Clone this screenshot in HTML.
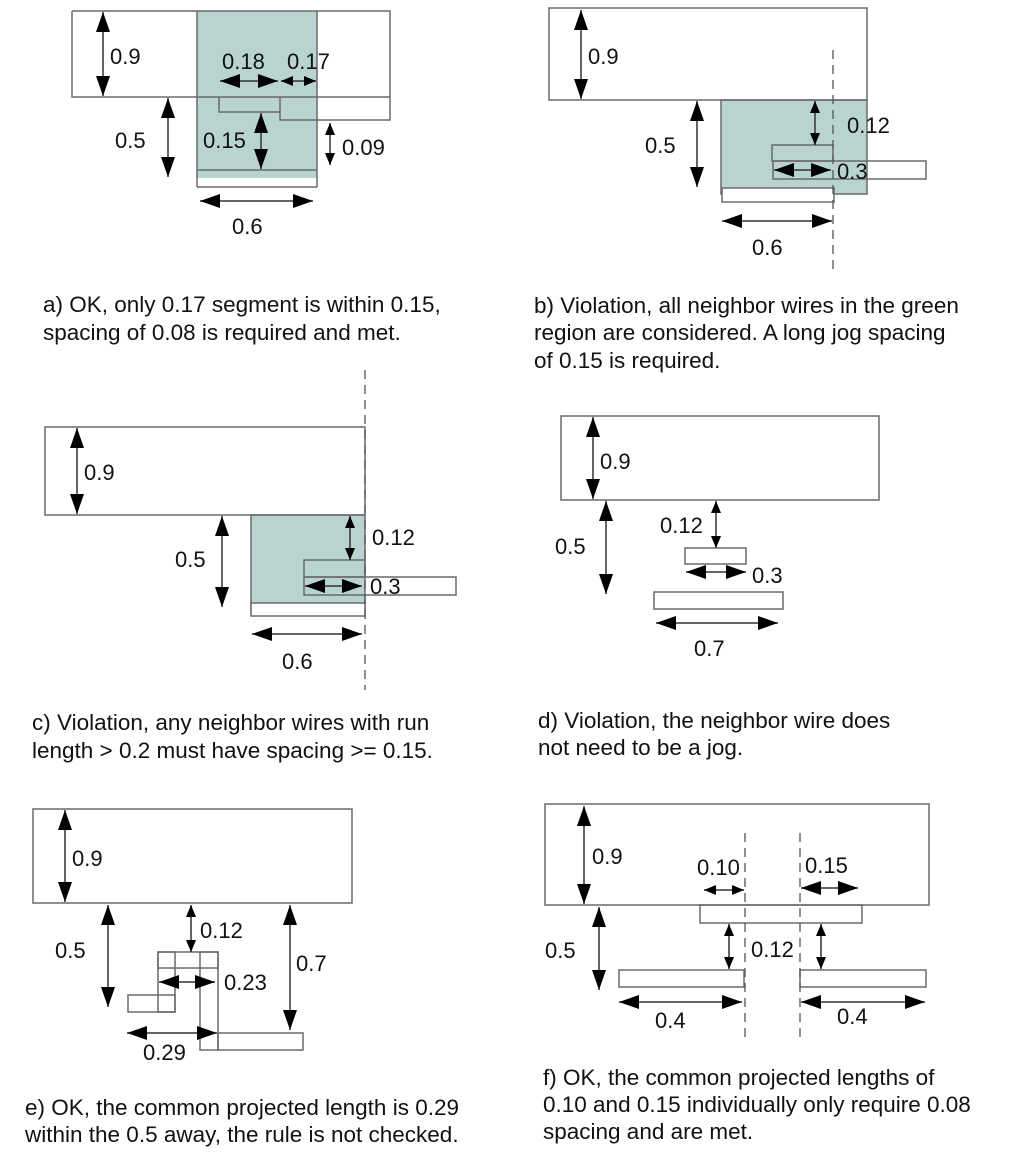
<!DOCTYPE html>
<html><head><meta charset="utf-8"><style>
html,body{margin:0;padding:0;background:#fff}
svg{display:block}
text{font-family:"Liberation Sans",Arial,sans-serif;font-size:22px;fill:#111}
text.c{font-size:22.5px}
.r{fill:none;stroke:#6a6a6a;stroke-width:1.5}
.rw{fill:#fff;stroke:#6a6a6a;stroke-width:1.5}
.a{stroke:#333;stroke-width:1.5;marker-start:url(#m);marker-end:url(#m)}
.s{stroke:#333;stroke-width:1.5;marker-start:url(#ms);marker-end:url(#ms)}
.d{stroke:#555;stroke-width:1.3;stroke-dasharray:9,6}
.g{fill:#b9d3d0}
</style></head><body>
<svg width="1013" height="1175" viewBox="0 0 1013 1175">
<defs>
<marker id="m" markerUnits="userSpaceOnUse" markerWidth="22" markerHeight="16" refX="20" refY="7" orient="auto-start-reverse"><path d="M0,0 L20,7 L0,14 Z" fill="#000"/></marker>
<marker id="ms" markerUnits="userSpaceOnUse" markerWidth="14" markerHeight="12" refX="12" refY="5" orient="auto-start-reverse"><path d="M0,0 L12,5 L0,10 Z" fill="#000"/></marker>
</defs>

<!-- a -->
<rect class="g" x="197" y="11" width="120" height="167"/>
<path class="r" d="M72,11 H390 V120 H280 V112 H219 V97 M72,11 V97 H390 M197,11 V187 M317,11 V187 M197,170 H317 M197,187 H317 M280,97 V112"/>
<line class="a" x1="103" y1="12" x2="103" y2="96"/><text x="110" y="64">0.9</text>
<line class="a" x1="220" y1="81" x2="278" y2="81"/><text x="222" y="69">0.18</text>
<line class="s" x1="281" y1="81" x2="316" y2="81"/><text x="287" y="69">0.17</text>
<line class="a" x1="168" y1="98" x2="168" y2="177"/><text x="115" y="148">0.5</text>
<line class="a" x1="261" y1="113" x2="261" y2="169"/><text x="203" y="148">0.15</text>
<line class="s" x1="330" y1="123" x2="330" y2="165"/><text x="342" y="155">0.09</text>
<line class="a" x1="200" y1="201" x2="313" y2="201"/><text x="232" y="234">0.6</text>
<text class="c" x="43" y="312">a) OK, only 0.17 segment is within 0.15,</text>
<text class="c" x="43" y="340">spacing of 0.08 is required and met.</text>

<!-- b -->
<rect class="g" x="721" y="100" width="146" height="94"/>
<rect class="r" x="549" y="8" width="318" height="92"/>
<rect class="r" x="721" y="100" width="146" height="94"/>
<rect class="r" x="772" y="145" width="61" height="16"/>
<rect class="r" x="773" y="161" width="153" height="18"/>
<rect class="rw" x="722" y="188" width="112" height="14"/>
<line class="d" x1="833" y1="50" x2="833" y2="275"/>
<line class="a" x1="581" y1="10" x2="581" y2="99"/><text x="588" y="64">0.9</text>
<line class="a" x1="697" y1="101" x2="697" y2="187"/><text x="645" y="153">0.5</text>
<line class="s" x1="815" y1="101" x2="815" y2="145"/><text x="847" y="133">0.12</text>
<line class="a" x1="774" y1="170" x2="831" y2="170"/><text x="837" y="179">0.3</text>
<line class="a" x1="722" y1="221" x2="832" y2="221"/><text x="752" y="255">0.6</text>
<text class="c" x="534" y="313">b) Violation, all neighbor wires in the green</text>
<text class="c" x="534" y="340">region are considered. A long jog spacing</text>
<text class="c" x="534" y="368">of 0.15 is required.</text>

<!-- c -->
<rect class="g" x="251" y="515" width="114" height="95"/>
<rect class="r" x="45" y="427" width="320" height="88"/>
<rect class="r" x="251" y="515" width="114" height="95"/>
<rect class="r" x="304" y="560" width="61" height="17"/>
<rect class="r" x="304" y="577" width="152" height="18"/>
<rect class="rw" x="251" y="603" width="114" height="13"/>
<line class="d" x1="365" y1="370" x2="365" y2="690"/>
<line class="a" x1="77" y1="428" x2="77" y2="514"/><text x="84" y="480">0.9</text>
<line class="a" x1="222" y1="516" x2="222" y2="607"/><text x="175" y="567">0.5</text>
<line class="s" x1="350" y1="516" x2="350" y2="560"/><text x="372" y="545">0.12</text>
<line class="a" x1="305" y1="586" x2="362" y2="586"/><text x="370" y="594">0.3</text>
<line class="a" x1="252" y1="634" x2="362" y2="634"/><text x="282" y="669">0.6</text>
<text class="c" x="32" y="730">c) Violation, any neighbor wires with run</text>
<text class="c" x="32" y="758">length &gt; 0.2 must have spacing &gt;= 0.15.</text>

<!-- d -->
<rect class="r" x="561" y="416" width="318" height="84"/>
<rect class="r" x="685" y="548" width="61" height="16"/>
<rect class="r" x="654" y="592" width="129" height="17"/>
<line class="a" x1="593" y1="417" x2="593" y2="499"/><text x="600" y="469">0.9</text>
<line class="a" x1="606" y1="501" x2="606" y2="594"/><text x="555" y="554">0.5</text>
<line class="s" x1="716" y1="501" x2="716" y2="548"/><text x="660" y="533">0.12</text>
<line class="a" x1="686" y1="572" x2="746" y2="572"/><text x="752" y="583">0.3</text>
<line class="a" x1="656" y1="623" x2="778" y2="623"/><text x="694" y="656">0.7</text>
<text class="c" x="538" y="728">d) Violation, the neighbor wire does</text>
<text class="c" x="538" y="755">not need to be a jog.</text>

<!-- e -->
<rect class="r" x="33" y="809" width="319" height="94"/>
<rect class="r" x="158" y="952" width="17" height="60"/>
<rect class="r" x="158" y="952" width="60" height="16"/>
<rect class="r" x="200" y="952" width="18" height="98"/>
<rect class="r" x="128" y="995" width="47" height="17"/>
<rect class="r" x="218" y="1033" width="85" height="17"/>
<line class="a" x1="65" y1="810" x2="65" y2="902"/><text x="72" y="866">0.9</text>
<line class="a" x1="108" y1="905" x2="108" y2="1007"/><text x="55" y="958">0.5</text>
<line class="s" x1="191" y1="905" x2="191" y2="952"/><text x="200" y="938">0.12</text>
<line class="a" x1="290" y1="905" x2="290" y2="1030"/><text x="296" y="971">0.7</text>
<line class="a" x1="159" y1="982" x2="215" y2="982"/><text x="224" y="990">0.23</text>
<line class="a" x1="127" y1="1033" x2="217" y2="1033"/><text x="143" y="1060">0.29</text>
<text class="c" x="25" y="1115">e) OK, the common projected length is 0.29</text>
<text class="c" x="25" y="1142">within the 0.5 away, the rule is not checked.</text>

<!-- f -->
<rect class="r" x="545" y="804" width="384" height="101"/>
<rect class="r" x="700" y="905" width="162" height="18"/>
<rect class="r" x="619" y="970" width="125" height="17"/>
<rect class="r" x="800" y="970" width="126" height="17"/>
<line class="d" x1="745" y1="833" x2="745" y2="1043"/>
<line class="d" x1="800" y1="833" x2="800" y2="1043"/>
<line class="a" x1="584" y1="806" x2="584" y2="904"/><text x="592" y="864">0.9</text>
<line class="a" x1="599" y1="907" x2="599" y2="990"/><text x="545" y="958">0.5</text>
<line class="s" x1="704" y1="890" x2="744" y2="890"/><text x="697" y="875">0.10</text>
<line class="a" x1="801" y1="888" x2="858" y2="888"/><text x="805" y="873">0.15</text>
<line class="s" x1="729" y1="924" x2="729" y2="969"/>
<line class="s" x1="821" y1="924" x2="821" y2="969"/><text x="751" y="957">0.12</text>
<line class="a" x1="619" y1="1002" x2="742" y2="1002"/><text x="655" y="1028">0.4</text>
<line class="a" x1="801" y1="1002" x2="925" y2="1002"/><text x="837" y="1024">0.4</text>
<text class="c" x="543" y="1085">f) OK, the common projected lengths of</text>
<text class="c" x="543" y="1112">0.10 and 0.15 individually only require 0.08</text>
<text class="c" x="543" y="1139">spacing and are met.</text>
</svg>
</body></html>
